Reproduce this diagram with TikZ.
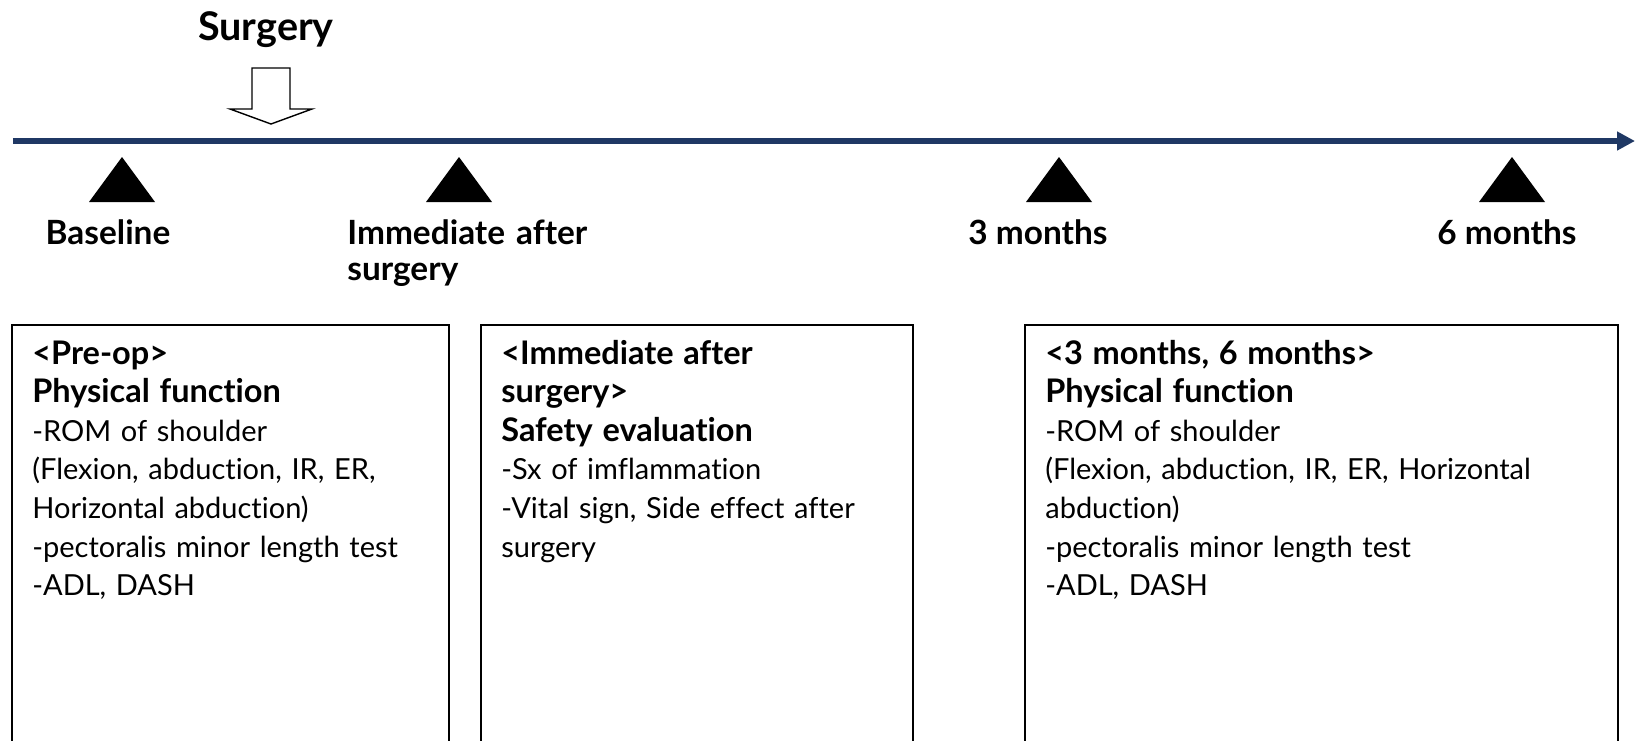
\documentclass[tikz,border=0pt]{standalone}
\usepackage{fontspec}
\setmainfont{Lato}[Ligatures=NoCommon]
\usepackage{tikz}
\usetikzlibrary{arrows.meta, positioning, calc}

\definecolor{axisnavy}{RGB}{31,56,100}

\newcommand{\hd}[1]{{\bfseries\fontsize{18.5}{22}\selectfont #1}}

\begin{document}
\begin{tikzpicture}[
    stage/.style={font=\bfseries\fontsize{19}{20.5}\selectfont, inner sep=0pt},
    panel/.style={rectangle, draw, line width=1pt, minimum height=10cm, anchor=north west, inner sep=0pt},
    panetext/.style={anchor=base west, inner sep=0pt, text width=12cm, align=left, font=\fontsize{16.5}{22}\selectfont}]
    \clip (0,0) rectangle (32.72,-14.8);
    \fill[white] (0,0) rectangle (32.72,-14.8);

    % operation marker
    \node [font=\bfseries\fontsize{22.5}{24}\selectfont, inner sep=0pt, anchor=base] (surg) at (5.32,-0.80) {Surgery};
    \draw [line width=0.8pt, fill=white] (5.04,-1.36) -- (5.80,-1.36) -- (5.80,-2.18) -- (6.24,-2.18)
        -- (5.42,-2.48) -- (4.60,-2.18) -- (5.04,-2.18) -- cycle;

    % time axis
    \coordinate (tstart) at (0.26,-2.82);
    \coordinate (tend) at (32.70,-2.82);
    \draw [axisnavy, line width=3.4pt, -{Triangle[length=0.36cm, width=0.36cm]}] (tstart) -- (tend);

    % time points
    \foreach \tx in {2.44, 9.18, 21.18, 30.24}
        \fill (\tx-0.66,-4.04) -- (\tx+0.66,-4.04) -- (\tx,-3.14) -- cycle;
    \node [stage, anchor=base] (base) at (2.16,-4.88) {Baseline};
    \node [stage, anchor=base west, text width=6cm, align=left] (imm) at (6.94,-4.88) {Immediate after\\surgery};
    \node [stage, anchor=base] (three) at (20.76,-4.88) {3 months};
    \node [stage, anchor=base] (six) at (30.14,-4.88) {6 months};

    % assessment panels
    \node [panel, minimum width=8.74cm] (pre) at (0.22,-6.48) {};
    \node [panel, minimum width=8.64cm] (post) at (9.60,-6.48) {};
    \node [panel, minimum width=11.86cm] (follow) at (20.48,-6.48) {};

    \node [panetext] (pretxt) at ($(pre.north west)+(0.42,-0.80)$)
        {\hd{<Pre-op>}\\\hd{Physical function}\\-ROM of shoulder\\(Flexion, abduction, IR, ER,\\Horizontal abduction)\\-pectoralis minor length test\\-ADL, DASH};
    \node [panetext] (posttxt) at ($(post.north west)+(0.42,-0.80)$)
        {\hd{<Immediate after}\\\hd{surgery>}\\\hd{Safety evaluation}\\-Sx of imflammation\\-Vital sign, Side effect after\\surgery};
    \node [panetext] (followtxt) at ($(follow.north west)+(0.42,-0.80)$)
        {\hd{<3 months, 6 months>}\\\hd{Physical function}\\-ROM of shoulder\\(Flexion, abduction, IR, ER, Horizontal\\abduction)\\-pectoralis minor length test\\-ADL, DASH};
\end{tikzpicture}
\end{document}
